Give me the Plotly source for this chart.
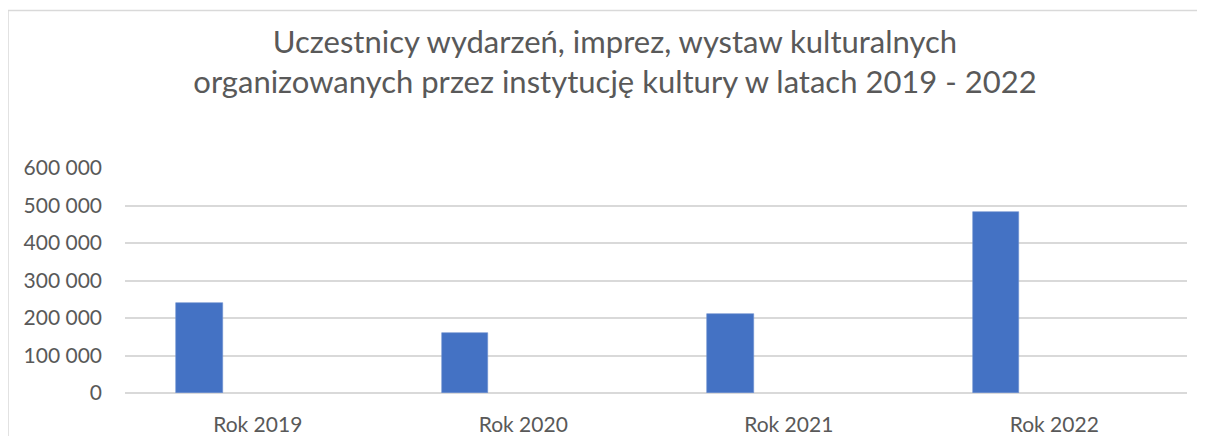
import plotly.graph_objects as go

categories = ["Rok 2019", "Rok 2020", "Rok 2021", "Rok 2022"]
participants = [240000, 159000, 212000, 482000]
y_tick_values = [0, 100000, 200000, 300000, 400000, 500000, 600000]
y_tick_labels = ["0", "100 000", "200 000", "300 000", "400 000", "500 000", "600 000"]
title_text = ("Uczestnicy wydarzeń, imprez, wystaw kulturalnych<br>"
              "organizowanych przez instytucję kultury w latach 2019 - 2022")

# page has an 8px body margin, so the figure is sized to fill the rest of the window
W, H = 1197, 428
L, R, T, B = 117, 18, 160, 43

fig = go.Figure()
fig.add_trace(go.Bar(
    x=categories, y=participants,
    width=0.175, offset=-0.307,
    marker=dict(color="#4472C4", line=dict(color="#6d8fd0", width=0.6)),
    showlegend=False,
))

plot_w = W - L - R
plot_h = H - T - B
bx = (0.0 - L) / plot_w
by = (H - B - 2.5) / plot_h

fig.update_layout(
    width=W, height=H,
    margin=dict(l=L, r=R, t=T, b=B, pad=0),
    paper_bgcolor="white", plot_bgcolor="white",
    font=dict(family="Lato", color="#595959", size=21),
    title=dict(text=title_text, x=607 / W, xanchor="center", xref="container",
               y=1 - 45 / H, yanchor="top", yref="container",
               font=dict(family="Lato", size=31, color="#595959")),
    bargap=0,
    xaxis=dict(showgrid=False, showline=False, ticks="", ticklabelstandoff=17,
               automargin=False,
               tickfont=dict(size=21, color="#595959"), fixedrange=True),
    yaxis=dict(range=[0, 600000], tickvals=y_tick_values, ticktext=y_tick_labels,
               showgrid=True, gridcolor="#d9d9d9", gridwidth=1.5,
               zeroline=True, zerolinecolor="#d9d9d9", zerolinewidth=1.5,
               showline=False, ticks="", ticklabelstandoff=22, automargin=False,
               tickfont=dict(size=21, color="#595959")),
    shapes=[
        dict(type="line", xref="paper", yref="paper", x0=bx, x1=bx, y0=-0.3, y1=by,
             line=dict(color="#d9d9d9", width=1.5)),
        dict(type="line", xref="paper", yref="paper", x0=bx, x1=1.2, y0=by, y1=by,
             line=dict(color="#d9d9d9", width=1.5)),
    ],
)

fig.write_html("out.html")
